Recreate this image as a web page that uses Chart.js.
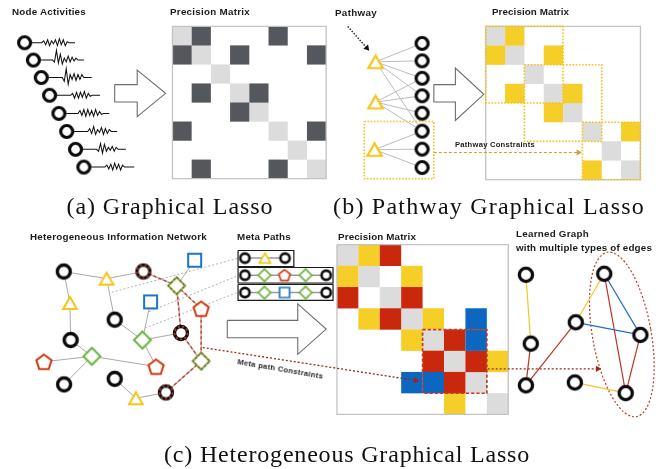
<!DOCTYPE html>
<html>
<head>
<meta charset="utf-8">
<title>Graphical Lasso variants</title>
<script src="https://cdn.jsdelivr.net/npm/chart.js@4"></script>
<style>
  html, body { margin: 0; padding: 0; background: #fff; }
  #wrap { position: relative; width: 667px; height: 469px; overflow: hidden; background: #fff; }
  #c { position: absolute; left: 0; top: 0; }
  .lbl { position: absolute; white-space: nowrap; line-height: 1; color: #1b1b1b;
         font-family: "Liberation Sans", Arial, Helvetica, sans-serif; font-weight: bold; }
  .cap { font-family: "Liberation Serif", "Times New Roman", serif; font-weight: normal; color: #111; }
</style>
</head>
<body>
<div id="wrap"><canvas id="c" width="667" height="469"></canvas></div>
<script>
// ---------------- (a) Graphical Lasso ----------------
const activityNodes = [[18,36.8],[27,54.7],[35,72.7],[43.5,91],[53,109.7],[61,128.3],[70,146.7],[78.5,165]];
// recorded activity of each node (upward deflection, sampled every 2 px)
const activityTraces = [
  [0,0,0,0,0,0,2,-2,3,-3,2,-1,3,-3,4,-2,3,-3,1,0,0,0,0],
  [0,0,0,0,0,0,0,-2,10,-3,6,-4,2,-2,4,-2,3,-1,2,0,0,0,0],
  [0,0,0,0,0,0,0,0,-4,9,-7,3,-2,4,-3,3,-2,3,0,0,0,0,0],
  [0,0,0,0,0,0,0,0,2,-3,3,-3,3,-2,4,-3,2,-1,0,0,0,0,0],
  [0,0,0,0,0,0,0,3,-2,4,-3,4,-2,3,-3,4,-2,2,-1,0,0,0,0],
  [0,0,0,0,0,0,0,0,3,-2,5,-3,2,-1,4,-3,3,-2,2,0,0,0,0],
  [0,0,0,0,0,0,0,0,-2,6,-4,5,-2,2,-1,3,-2,2,0,0,0,0,0],
  [0,0,0,0,0,0,0,0,2,-2,3,-3,4,-2,3,-3,2,0,0,0,0,0,0]
];
// precision matrices: L = diagonal, D = dependency, Y/R/B = edge types, . = zero
const matrixA = [
  'LD...D..',
  'DL.D...D',
  '..L.....',
  '.D.LD...',
  '...DL...',
  'D....L.D',
  '......L.',
  '.D...D.L'
];

// ---------------- (b) Pathway Graphical Lasso ----------------
const pathwayNodes = [[376.5,56.5],[376.5,98],[375.5,147]];
const geneNodes = [[424,37.5],[424,55.5],[424,73.5],[424,91.5],[424,109.5],[424,128],[424,146.5],[424,165.5]];
const pathwayLinks = [[0,0],[0,1],[0,2],[0,3],[0,5],[1,2],[1,3],[1,4],[1,5],[2,5],[2,6],[2,7]];
const matrixB = [
  'LY......',
  'YL.Y....',
  '..L.....',
  '.Y.LY...',
  '...YL...',
  '.....L.Y',
  '......L.',
  '.....Y.L'
];
// pathway blocks inside the matrix: [row0, col0, row1, col1]
const pathwayBlocks = [[0,0,4,4],[2,2,6,6],[5,5,8,8]];

// ---------------- (c) Heterogeneous Graphical Lasso ----------------
// [x, y, node type, lies on a meta path]
const hinNodes = [
  [58,272.7,'circle',0], [101.7,280,'triangle',0], [139.3,272.7,'circle',1], [191.7,261,'square',0],
  [173.3,287.3,'diamond',1], [64.3,305,'triangle',0], [146.7,304,'square',0], [198.3,311,'pentagon',0],
  [110,322.3,'circle',0], [177.7,336,'circle',1], [65,343.3,'circle',0], [138.3,343.3,'diamond',0],
  [37.7,365.7,'pentagon',0], [86.7,360,'diamond',0], [152.3,370.7,'pentagon',0], [198.3,365,'diamond',1],
  [58.3,389,'circle',0], [110,383.3,'circle',0], [131.7,403.3,'triangle',0], [162.3,397.3,'circle',1]
];
const hinEdges = [[0,1],[1,2],[0,5],[5,10],[1,8],[8,11],[6,11],[11,9],[11,14],[10,13],[12,13],[13,14],[13,16],[17,18],[18,19],[3,4]];
const hinMetaEdges = [[2,4],[4,7],[4,9],[7,15],[9,15],[15,19]];
const metaPaths = [
  ['circle','triangle','circle'],
  ['circle','diamond','pentagon','diamond','circle'],
  ['circle','diamond','square','diamond','circle']
];
const matrixC = [
  'LYR.....',
  'YL.Y....',
  'R.LR....',
  '.YRLY.B.',
  '...YLRB.',
  '....RLRY',
  '...BBRL.',
  '.....Y.L'
];
const constrainedBlock = [4,4,7,7];
const learnedNodes = [[530,276],[610,275],[581,325],[647,338],[535,347],[530,390],[580,387],[632,398]];
const learnedEdgesYellow = [[0,4],[2,1],[6,7]];
const learnedEdgesRed = [[4,5],[5,2],[1,7],[3,7]];
const learnedEdgesBlue = [[1,3],[2,3]];

// ---------------- layout & styling ----------------
const CELL_COLORS = { L:'#dcdcdc', D:'#54575c', Y:'#f6ce28', R:'#c9280c', B:'#0b67c0' };
const NODE_COLORS = { circle:'#0b0b0b', triangle:'#f3c517', square:'#1a74c9', diamond:'#6db33f', pentagon:'#d33a12' };
const matrixFrames = [
  { grid: matrixA, x: 169, y: 20, size: 157 },
  { grid: matrixB, x: 489, y: 20, size: 158 },
  { grid: matrixC, x: 337, y: 245, size: 175 }
];
const metaBoxes = [
  { y: 251, h: 16.5, x0: 236, x1: 293, xs: [243,263.5,284], cy: 258.8 },
  { y: 268.5, h: 16, x0: 236, x1: 333, xs: [243,263,283.5,305,326], cy: 276.5 },
  { y: 286, h: 16.5, x0: 236, x1: 333, xs: [243,263,283.5,305,326], cy: 294.3 }
];
const blockArrows = [
  // [xLeft, yBodyTop, yBodyBottom, xHeadBase, yHeadTop, yHeadBottom, xTip]
  [110, 80, 98, 133, 65, 113, 162],
  [436, 80, 98, 458, 63, 117, 487],
  [225, 323, 341, 297, 306, 358, 326]
];

const datasets = [];
const pts = (arr) => arr.map(p => ({ x: p[0], y: p[1] }));

function addLine(points, color, width, dash) {
  datasets.push({ data: pts(points), showLine: true, borderColor: color, borderWidth: width,
    borderDash: dash || [], pointRadius: 0, fill: false, tension: 0, borderJoinStyle: 'miter' });
}
function addGlyphs(points, glyphImg) {
  datasets.push({ data: pts(points), showLine: false, pointStyle: glyphImg, pointRadius: 6 });
}
function addArrow(p0, p1, color, width, dash, head) {
  const dx = p1[0] - p0[0], dy = p1[1] - p0[1];
  const len = Math.hypot(dx, dy), ux = dx / len, uy = dy / len;
  const c = [p1[0] - ux * head, p1[1] - uy * head];
  addLine([p0, [p1[0] - ux * head * 1.2, p1[1] - uy * head * 1.2]], color, width, dash);
  datasets.push({ data: pts([c]), showLine: false, pointStyle: 'triangle',
    rotation: Math.atan2(ux, -uy) * 180 / Math.PI, pointRadius: head,
    backgroundColor: color, borderWidth: 0 });
}
function addRect(x0, y0, x1, y1, color, width, dash) {
  addLine([[x0,y0],[x1,y0],[x1,y1],[x0,y1],[x0,y0]], color, width, dash);
}

// node glyphs rendered once and reused as point styles
function glyph(kind, r, color, lw, dashColor) {
  const s = Math.ceil(2 * r + 2 * lw + 6);
  const cv = document.createElement('canvas');
  cv.width = s; cv.height = s;
  const g = cv.getContext('2d');
  g.translate(s / 2, s / 2);
  const path = () => {
    g.beginPath();
    if (kind === 'circle') g.arc(0, 0, r, 0, Math.PI * 2);
    else if (kind === 'square') g.rect(-r, -r, 2 * r, 2 * r);
    else if (kind === 'diamond') { g.moveTo(0, -r); g.lineTo(r, 0); g.lineTo(0, r); g.lineTo(-r, 0); g.closePath(); }
    else if (kind === 'triangle') { const h = r * 0.866; g.moveTo(0, -h); g.lineTo(r, h); g.lineTo(-r, h); g.closePath(); }
    else if (kind === 'pentagon') {
      for (let k = 0; k < 5; k++) {
        const a = (-90 + 72 * k) * Math.PI / 180;
        const px = r * Math.cos(a), py = r * Math.sin(a) + r * 0.1;
        if (k === 0) g.moveTo(px, py); else g.lineTo(px, py);
      }
      g.closePath();
    }
  };
  path();
  g.fillStyle = '#fff'; g.fill();
  g.lineWidth = lw; g.strokeStyle = color; g.lineJoin = 'miter'; g.stroke();
  if (dashColor) {
    g.setLineDash([2.2, 2.2]); g.lineWidth = lw * 0.55; g.strokeStyle = dashColor; path(); g.stroke();
  }
  return cv;
}

// ---- matrices ----
matrixFrames.forEach(m => {
  const n = m.grid.length, cell = m.size / n;
  Object.keys(CELL_COLORS).forEach(code => {
    const centers = [];
    m.grid.forEach((row, r) => row.split('').forEach((ch, c) => {
      if (ch === code) centers.push([m.x + (c + 0.5) * cell, m.y + (r + 0.5) * cell]);
    }));
    if (!centers.length) return;
    datasets.push({ data: pts(centers), showLine: false, pointStyle: 'rect',
      pointRadius: (ctx) => {
        const sx = ctx.chart.scales.x;
        return Math.abs(sx.getPixelForValue(cell) - sx.getPixelForValue(0)) / Math.SQRT2;
      },
      backgroundColor: CELL_COLORS[code], borderWidth: 0 });
  });
  addRect(m.x, m.y, m.x + m.size, m.y + m.size, '#c3c3c3', 1.3);
});
{
  const m = matrixFrames[1], cell = m.size / 8;
  pathwayBlocks.forEach(b => addRect(m.x + b[1] * cell, m.y + b[0] * cell, m.x + b[3] * cell, m.y + b[2] * cell, '#f2c21b', 1.6, [1.6, 1.6]));
  const mc = matrixFrames[2], cc = mc.size / 8, b = constrainedBlock;
  addRect(mc.x + b[1] * cc, mc.y + b[0] * cc, mc.x + b[3] * cc, mc.y + b[2] * cc, '#c43a2a', 1.7, [3.2, 2]);
}

// ---- (a) traces and nodes ----
activityNodes.forEach((n, i) => {
  addLine(activityTraces[i].map((v, k) => [n[0] + 7.5 + 2 * k, n[1] - v]), '#111', 1.05);
});
addGlyphs(activityNodes, glyph('circle', 6, '#0b0b0b', 3.2));

// ---- (b) pathway graph ----
pathwayLinks.forEach(([p, g]) => addLine([pathwayNodes[p], geneNodes[g]], '#b5b5b5', 0.9));
addRect(365, 118, 436, 177, '#f2c21b', 1.6, [1.6, 1.6]);
addGlyphs(geneNodes, glyph('circle', 6, '#0b0b0b', 3.2));
addGlyphs(pathwayNodes, glyph('triangle', 7.2, NODE_COLORS.triangle, 2.2));
addArrow([348, 20], [370, 45], '#111', 1.3, [1.5, 1.5], 3.6);
addArrow([436, 150], [587, 150], '#c9a22b', 1.1, [3, 2], 3.4);

// ---- (c) heterogeneous network ----
const guideLines = [[[107,294],[236,259]], [[145,314],[236,277]], [[141,331],[236,294]]];
guideLines.forEach(l => addLine(l, '#a8a8a8', 0.9, [2, 2]));
hinEdges.forEach(([a, b]) => addLine([hinNodes[a], hinNodes[b]], '#a9a9a9', 1));
hinMetaEdges.forEach(([a, b]) => {
  addLine([hinNodes[a], hinNodes[b]], '#c9b3ad', 1.6);
  addLine([hinNodes[a], hinNodes[b]], '#b8422c', 1.3, [3, 2.5]);
});
const hinGlyphSize = { circle: [6.5, 3.4], triangle: [6.8, 2], square: [6.5, 2], diamond: [8.5, 2], pentagon: [8, 2] };
['circle','triangle','square','diamond','pentagon'].forEach(kind => {
  [0, 1].forEach(onPath => {
    const list = hinNodes.filter(n => n[2] === kind && n[3] === onPath);
    if (!list.length) return;
    const [r, lw] = hinGlyphSize[kind];
    addGlyphs(list, glyph(kind, r, NODE_COLORS[kind], lw, onPath ? '#a8321f' : null));
  });
});

// meta path strips
const metaGlyphSize = { circle: [4.6, 2.6], triangle: [5.6, 1.7], square: [5, 1.7], diamond: [6.2, 1.7], pentagon: [6, 1.7] };
metaPaths.forEach((path, i) => {
  const b = metaBoxes[i];
  addLine([[b.xs[0], b.cy], [b.xs[b.xs.length - 1], b.cy]], '#9a9a9a', 1.4);
  addRect(b.x0, b.y, b.x1, b.y + b.h, '#1a1a1a', 1.2);
});
metaPaths.forEach((path, i) => {
  const b = metaBoxes[i];
  path.forEach((kind, k) => {
    const [r, lw] = metaGlyphSize[kind];
    addGlyphs([[b.xs[k], b.cy]], glyph(kind, r, NODE_COLORS[kind], lw));
  });
});

// learned graph
learnedEdgesYellow.forEach(([a, b]) => addLine([learnedNodes[a], learnedNodes[b]], '#f3c52c', 1.2));
learnedEdgesRed.forEach(([a, b]) => addLine([learnedNodes[a], learnedNodes[b]], '#c0341f', 1.2));
learnedEdgesBlue.forEach(([a, b]) => addLine([learnedNodes[a], learnedNodes[b]], '#1e70c6', 1.2));
addGlyphs(learnedNodes, glyph('circle', 6.6, '#0b0b0b', 3.3));

// constraint arrows
addArrow([200, 351], [421, 385.5], '#9e2614', 1.3, [2, 2], 3.6);
addArrow([491, 373], [607, 373], '#9e2614', 1.3, [2, 2], 3.6);

// hollow block arrows
blockArrows.forEach(a => {
  const yc = (a[4] + a[5]) / 2;
  addLine([[a[0],a[1]],[a[3],a[1]],[a[3],a[4]],[a[6],yc],[a[3],a[5]],[a[3],a[2]],[a[0],a[2]],[a[0],a[1]]], '#6c6c6c', 1.1);
});

// later datasets sit on top
datasets.forEach((d, i) => { d.order = datasets.length - i; });

// dotted ellipse grouping the constrained nodes of the learned graph
const groupEllipse = { cx: 628, cy: 337.5, rx: 30, ry: 86, rot: -10 };
const ellipsePlugin = {
  id: 'groupEllipse',
  beforeDatasetsDraw(chart) {
    const { ctx, scales: { x, y } } = chart;
    const e = groupEllipse;
    const cx = x.getPixelForValue(e.cx), cy = y.getPixelForValue(e.cy);
    const rx = Math.abs(x.getPixelForValue(e.cx + e.rx) - cx), ry = Math.abs(y.getPixelForValue(e.cy + e.ry) - cy);
    ctx.save();
    ctx.beginPath();
    ctx.ellipse(cx, cy, rx, ry, e.rot * Math.PI / 180, 0, Math.PI * 2);
    ctx.setLineDash([2, 2]);
    ctx.lineWidth = 1.2;
    ctx.strokeStyle = '#c43a2a';
    ctx.stroke();
    ctx.restore();
  }
};

new Chart(document.getElementById('c'), {
  type: 'scatter',
  data: { datasets },
  options: {
    responsive: false,
    animation: false,
    devicePixelRatio: 1,
    events: [],
    layout: { padding: 0 },
    scales: {
      x: { type: 'linear', min: 0, max: 667, display: false },
      y: { type: 'linear', min: 0, max: 469, reverse: true, display: false }
    },
    plugins: { legend: { display: false }, tooltip: { enabled: false } }
  },
  plugins: [ellipsePlugin]
});

// ---------------- text ----------------
const labels = [
  { t: 'Node Activities', x: 12, y: 15, s: 9.8, w: 74 },
  { t: 'Precision Matrix', x: 170, y: 15, s: 9.8, w: 80 },
  { t: 'Pathway', x: 335, y: 16, s: 9.8, w: 42 },
  { t: 'Precision Matrix', x: 492, y: 15, s: 9.8, w: 77 },
  { t: 'Pathway Constraints', x: 455, y: 147.5, s: 7.6, w: 80 },
  { t: 'Heterogeneous Information Network', x: 30, y: 240, s: 9.8, w: 177 },
  { t: 'Meta Paths', x: 237, y: 240, s: 9.8, w: 54 },
  { t: 'Precision Matrix', x: 338, y: 240.5, s: 9.8, w: 78 },
  { t: 'Learned Graph', x: 516, y: 237, s: 9.8, w: 73 },
  { t: 'with multiple types of edges', x: 516, y: 251, s: 9.8, w: 136 },
  { t: 'Meta path Constraints', x: 237, y: 364, s: 7.6, w: 87, rot: 9.8 },
  { t: '(a) Graphical Lasso', x: 66.5, y: 214, s: 24, w: 207, serif: true },
  { t: '(b) Pathway Graphical Lasso', x: 333, y: 214, s: 24, w: 312, serif: true },
  { t: '(c) Heterogeneous Graphical Lasso', x: 164, y: 462.5, s: 24, w: 366, serif: true }
];
function placeLabels() {
  const wrap = document.getElementById('wrap');
  labels.forEach(L => {
    const el = document.createElement('div');
    el.className = 'lbl' + (L.serif ? ' cap' : '');
    el.textContent = L.t;
    el.style.fontSize = L.s + 'px';
    el.style.left = L.x + 'px';
    const asc = L.serif ? 0.8375 : 0.8465;
    el.style.top = (L.y - L.s * asc) + 'px';
    wrap.appendChild(el);
    const w = el.getBoundingClientRect().width;
    el.style.letterSpacing = ((L.w - w) / L.t.length).toFixed(3) + 'px';
    if (L.rot) {
      el.style.transformOrigin = '0px ' + (L.s * asc).toFixed(2) + 'px';
      el.style.transform = 'rotate(' + L.rot + 'deg)';
    }
  });
}
placeLabels();
</script>
</body>
</html>
